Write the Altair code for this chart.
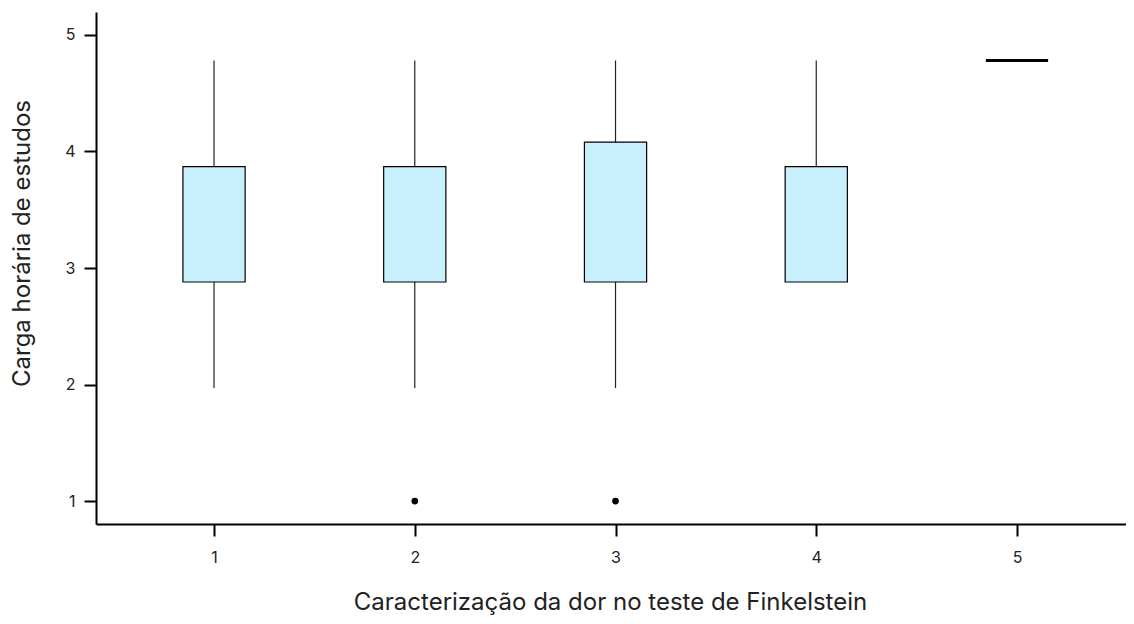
import altair as alt
import pandas as pd

categories = [1, 2, 3, 4, 5]
whisker_low = [1.97, 1.97, 1.97, 2.88, 4.78]
q1 = [2.88, 2.88, 2.88, 2.88, 4.78]
q3 = [3.87, 3.87, 4.08, 3.87, 4.78]
whisker_high = [4.78, 4.78, 4.78, 4.78, 4.78]
outlier_cat = [2, 3]
outlier_val = [1.0, 1.0]

BOX_HALF = 0.155
FONT = "Inter"

df = pd.DataFrame({"cat": categories, "lo": whisker_low, "q1": q1, "q3": q3, "hi": whisker_high})
df["xl"] = df["cat"] - BOX_HALF
df["xr"] = df["cat"] + BOX_HALF
df_box = df[df["q3"] > df["q1"]]
df_flat = df[df["q3"] == df["q1"]]
df_out = pd.DataFrame({"cat": outlier_cat, "val": outlier_val})

xscale = alt.Scale(domain=[0.412, 5.543], nice=False, zero=False)
yscale = alt.Scale(domain=[0.803, 5.197], nice=False, zero=False)

xaxis = alt.Axis(title="Caracterização da dor no teste de Finkelstein", values=[1, 2, 3, 4, 5],
                 format="d", grid=False, domainColor="black", domainWidth=2,
                 tickColor="black", tickWidth=2, tickSize=12, labelFontSize=16,
                 labelPadding=13, labelColor="#222", labelFont=FONT, titleFont=FONT,
                 titleFontSize=24, titleFontWeight="normal", titleColor="#222",
                 titleX=514, titleY=78, titleBaseline="middle", titleAlign="center")
yaxis = alt.Axis(title="Carga horária de estudos", values=[1, 2, 3, 4, 5],
                 format="d", grid=False, domainColor="black", domainWidth=2,
                 tickColor="black", tickWidth=2, tickSize=12, labelFontSize=16,
                 labelPadding=9, labelColor="#222", labelFont=FONT, titleFont=FONT,
                 titleFontSize=24, titleFontWeight="normal", titleColor="#222",
                 titleX=-74, titleY=231, titleBaseline="middle", titleAlign="center", titleAngle=270)

whiskers = alt.Chart(df_box).mark_rule(color="#222", strokeWidth=1.2).encode(
    x=alt.X("cat:Q", scale=xscale, axis=xaxis),
    y=alt.Y("lo:Q", scale=yscale, axis=yaxis),
    y2="hi:Q",
)

boxes = alt.Chart(df_box).mark_rect(fill="#C8EFFC", stroke="black", strokeWidth=1.2).encode(
    x=alt.X("xl:Q", scale=xscale),
    x2="xr:Q",
    y=alt.Y("q1:Q", scale=yscale),
    y2="q3:Q",
)

flat = alt.Chart(df_flat).mark_rule(color="black", strokeWidth=3).encode(
    x=alt.X("xl:Q", scale=xscale),
    x2="xr:Q",
    y=alt.Y("q1:Q", scale=yscale),
)

outliers = alt.Chart(df_out).mark_circle(color="black", opacity=1, size=45).encode(
    x=alt.X("cat:Q", scale=xscale),
    y=alt.Y("val:Q", scale=yscale),
)

chart = alt.layer(whiskers, boxes, flat, outliers).properties(
    width=1030, height=512,
    autosize=alt.AutoSizeParams(type="none"),
    padding={"left": 88, "top": 4, "right": 0, "bottom": 92},
).configure_view(stroke=None)

chart.save("out.html", embed_options={"renderer": "svg", "actions": False})
